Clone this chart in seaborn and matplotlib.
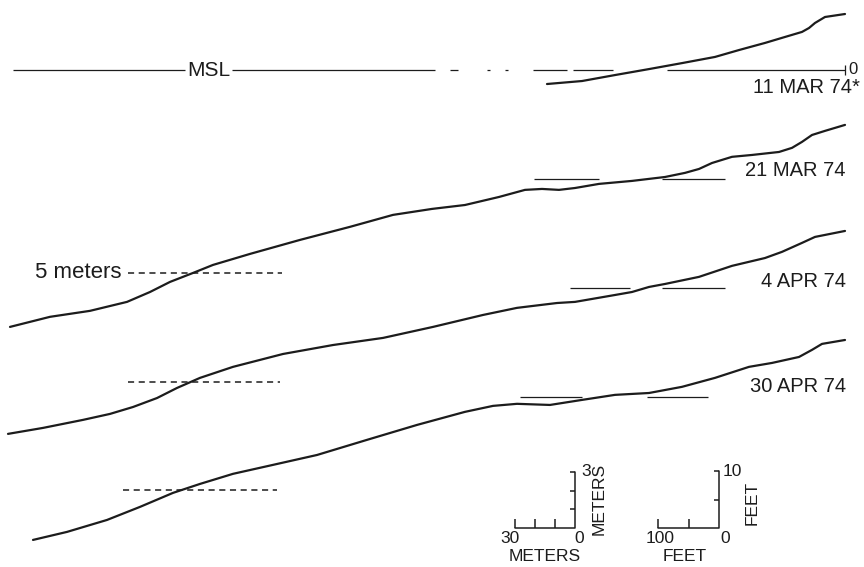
import pandas as pd
import numpy as np
import matplotlib
matplotlib.use("Agg")
import matplotlib.pyplot as plt
import seaborn as sns

# beach profiles, distance from benchmark (m, negative = seaward) and elevation re MSL (m)
surveys = ["11 MAR 74*", "21 MAR 74", "4 APR 74", "30 APR 74"]

dist_11mar = [-149, -131.5, -115, -98, -81.5, -65, -53, -40, -30, -21.5, -18, -15, -10, 0]
elev_11mar = [-0.75, -0.59, -0.27, 0.05, 0.37, 0.70, 1.07, 1.45, 1.77, 2.04, 2.25, 2.52, 2.84, 3.0]

dist_21mar = [-417.5, -397.5, -377.5, -359, -347.5, -337.5, -326, -316, -297.5, -272.5, -247.5,
              -226, -206.5, -190, -173, -160, -151.5, -143, -135, -123, -106.5, -90, -80, -73,
              -66.5, -56.5, -46.5, -33, -26.5, -21.5, -16.5, -10, 0]
elev_21mar = [-7.90, -7.36, -7.04, -6.56, -6.03, -5.49, -5.01, -4.58, -3.99, -3.24, -2.54,
              -1.90, -1.58, -1.37, -0.94, -0.56, -0.51, -0.56, -0.46, -0.24, -0.08, 0.13, 0.35, 0.56,
              0.88, 1.21, 1.31, 1.47, 1.69, 2.01, 2.38, 2.60, 2.92]

dist_4apr = [-418.5, -401, -381, -367.5, -356, -344, -334, -322.5, -306, -281, -256, -231, -206,
             -181, -164, -144, -135, -115, -106.5, -98, -90, -73, -56.5, -40, -31.5, -21.5, -15, 0]
elev_4apr = [-7.79, -7.47, -7.04, -6.72, -6.35, -5.87, -5.33, -4.79, -4.20, -3.51, -3.03, -2.65, -2.06,
             -1.42, -1.04, -0.78, -0.72, -0.35, -0.19, 0.08, 0.24, 0.62, 1.21, 1.63, 1.96, 2.44, 2.76, 3.08]

dist_30apr = [-406, -389, -369, -352.5, -336, -322.5, -306, -286, -264, -239, -214, -190, -176, -164,
              -147.5, -131.5, -115, -98, -81.5, -65, -48, -36.5, -23, -16.5, -11.5, 0]
elev_30apr = [-7.66, -7.23, -6.59, -5.89, -5.14, -4.66, -4.12, -3.64, -3.11, -2.30, -1.50, -0.80, -0.48, -0.37,
              -0.43, -0.16, 0.11, 0.21, 0.54, 1.02, 1.61, 1.82, 2.14, 2.52, 2.84, 3.05]

# MSL line of the first survey (broken pieces as drawn)
msl_start = [-416, -306.5, -197.5, -179, -170, -156, -136, -89]
msl_end = [-330, -205, -193.5, -177.5, -168.5, -139, -116, 0]

# short MSL marks on later surveys
mark_start = [[], [-155.5, -91.5], [-137.5, -91.5], [-162.5, -99]]
mark_end = [[], [-123, -60], [-107.5, -60], [-131.5, -68.5]]

# 5 m depth reference dashes
ref_start = [None, -358.5, -358.5, -361]
ref_end = [None, -281.5, -282.5, -284]

offsets = [0, -5.86, -11.7, -17.51]
label_y = [-0.96, 0.5, 0.35, 0.54]

sns.set_style("white")
plt.rcParams["font.family"] = ["Liberation Sans", "DejaVu Sans"]
ink = "#1c1c1c"

rows = []
all_d = [dist_11mar, dist_21mar, dist_4apr, dist_30apr]
all_e = [elev_11mar, elev_21mar, elev_4apr, elev_30apr]
for name, d, e, off in zip(surveys, all_d, all_e, offsets):
    for dd, ee in zip(d, e):
        rows.append({"survey": name, "distance": dd, "z": ee + off})
df = pd.DataFrame(rows)

fig = plt.figure(figsize=(8.64, 5.67), dpi=100)
ax = fig.add_axes([0, 0, 1, 1])

sns.lineplot(data=df, x="distance", y="z", units="survey", estimator=None, sort=False,
             color=ink, lw=1.6, ax=ax, solid_joinstyle="round", solid_capstyle="round")

ax.hlines([0] * len(msl_start), msl_start, msl_end, color=ink, lw=0.9)
ax.vlines(0, -0.28, 0.28, color=ink, lw=0.9)
ax.text(1.5, 0.05, "0", fontsize=12, ha="left", va="center", color=ink)
ax.text(-318, 0, "MSL", fontsize=15, ha="center", va="center", color=ink)

for i in range(4):
    off = offsets[i]
    for s, e in zip(mark_start[i], mark_end[i]):
        ax.hlines(off, s, e, color=ink, lw=0.9)
    if ref_start[i] is not None:
        ax.hlines(off - 5, ref_start[i], ref_end[i], color=ink, lw=1.1, linestyles=(0, (4, 3)))
    xt = 7.5 if i == 0 else 0.5
    ax.text(xt, off + label_y[i], surveys[i], fontsize=14.5, ha="right", va="center", color=ink)

ax.text(-361.5, offsets[1] - 5, "5 meters", fontsize=16, ha="right", va="center", color=ink)

# scale bars
base = -24.53
m_ticks = [-165, -155, -145]
ax.plot([-165, -135, -135], [base, base, base + 3], color=ink, lw=1.1)
ax.vlines(m_ticks, base, base + 0.48, color=ink, lw=1.1)
ax.hlines([base + 1, base + 2, base + 3], -137.5, -135, color=ink, lw=1.1)
ax.text(-167.5, base - 0.55, "30", fontsize=12.5, ha="center", va="center", color=ink)
ax.text(-133, base - 0.55, "0", fontsize=12.5, ha="center", va="center", color=ink)
ax.text(-150, base - 1.55, "METERS", fontsize=12.5, ha="center", va="center", color=ink)
ax.text(-132, base + 3, "3", fontsize=12.5, ha="left", va="center", color=ink)
ax.text(-123, base + 1.55, "METERS", fontsize=12.5, ha="center", va="center", rotation=90, color=ink)

f_ticks = [-93.48, -78.24]
ax.plot([-93.48, -63, -63], [base, base, base + 3.048], color=ink, lw=1.1)
ax.vlines(f_ticks, base, base + 0.48, color=ink, lw=1.1)
ax.hlines([base + 1.524, base + 3.048], -65.5, -63, color=ink, lw=1.1)
ax.text(-92.5, base - 0.55, "100", fontsize=12.5, ha="center", va="center", color=ink)
ax.text(-60, base - 0.55, "0", fontsize=12.5, ha="center", va="center", color=ink)
ax.text(-80, base - 1.55, "FEET", fontsize=12.5, ha="center", va="center", color=ink)
ax.text(-61, base + 3.0, "10", fontsize=12.5, ha="left", va="center", color=ink)
ax.text(-46.5, base + 1.35, "FEET", fontsize=12.5, ha="center", va="center", rotation=90, color=ink)

ax.set_xlim(-422.5, 9.5)
ax.set_ylim(-26.62, 3.75)
ax.axis("off")
fig.savefig("out.png", dpi=100, facecolor="white")
